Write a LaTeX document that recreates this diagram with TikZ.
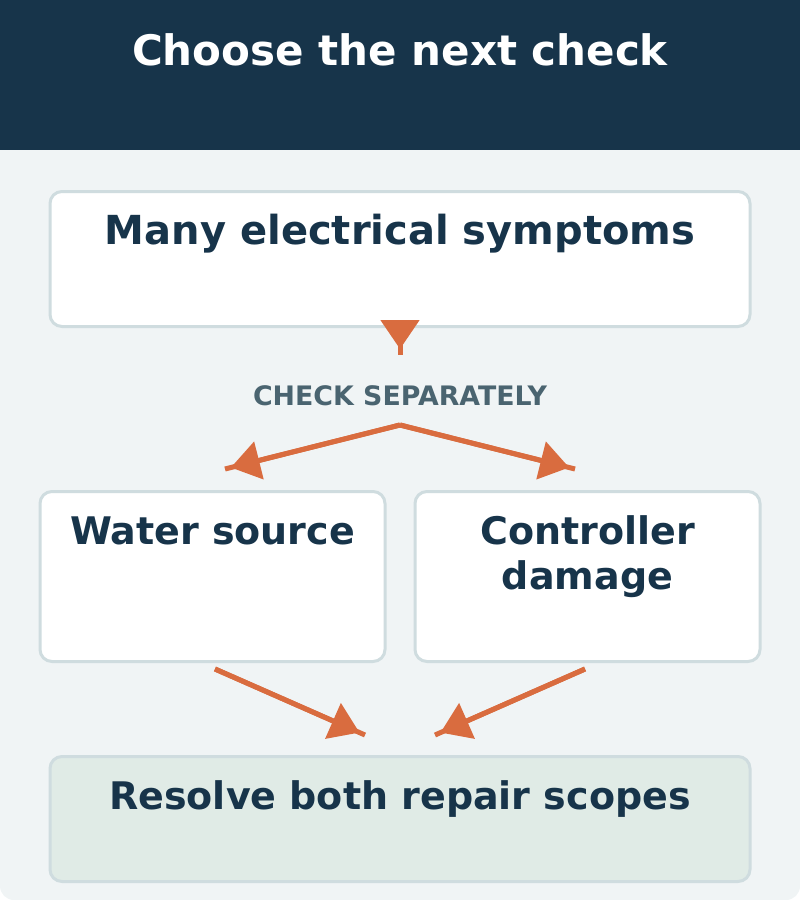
\documentclass[tikz,border=0pt]{standalone}
\usepackage{fontspec}
\setmainfont{DejaVu Sans}
\usetikzlibrary{arrows.meta}
\definecolor{navy}{HTML}{17344A}
\definecolor{accent}{HTML}{D96C3F}
\definecolor{cardbg}{HTML}{F0F4F5}
\definecolor{edge}{HTML}{CFDCDF}
\definecolor{donefill}{HTML}{E0EBE6}
\definecolor{muted}{HTML}{4A6470}
\begin{document}
\begin{tikzpicture}[x=1pt, y=-1pt, font=\bfseries,
  box/.style={draw=edge, line width=3pt, fill=white, rounded corners=12pt, anchor=north, align=center, text=navy, inner sep=0pt, font=\bfseries\fontsize{38}{45}\selectfont},
  flow/.style={draw=accent, line width=5pt, postaction={draw=accent, -{Triangle[length=29pt, width=38pt]}, shorten >=6pt}}]
\useasboundingbox (0,0) rectangle (800,900);
\fill[cardbg, rounded corners=14pt] (0,0) rectangle (800,900);
\fill[navy] (0,0) rectangle (800,150);
\node[anchor=base, text=white, font=\bfseries\fontsize{42}{48}\selectfont] (title) at (400,65) {Choose the next check};
\node[box, minimum width=700pt, text height=53pt, text depth=82pt, font=\bfseries\fontsize{40}{46}\selectfont] (many) at (400,190) {Many electrical symptoms};
\node[anchor=base, text=muted, font=\bfseries\fontsize{26.8}{30}\selectfont] (sep) at (400,405) {CHECK SEPARATELY};
\node[box, minimum width=345pt, text height=53pt, text depth=117pt] (water) at (212.5,490) {Water source};
\node[box, minimum width=345pt, text height=98pt, text depth=72pt] (ctrl) at (587.5,490) {Controller\\damage};
\node[box, fill=donefill, minimum width=700pt, text height=53pt, text depth=72pt] (resolve) at (400,755) {Resolve both repair scopes};
\coordinate (sepin) at (400,355);
\coordinate (fork) at (400,425);
\coordinate (waterin) at (225,469);
\coordinate (ctrlin) at (575,469);
\coordinate (waterout) at (215,669);
\coordinate (ctrlout) at (585,669);
\coordinate (resolvel) at (365,735);
\coordinate (resolver) at (435,735);
\draw[flow] (many.south) -- (sepin);
\draw[flow] (fork) -- (waterin);
\draw[flow] (fork) -- (ctrlin);
\draw[flow] (waterout) -- (resolvel);
\draw[flow] (ctrlout) -- (resolver);
\end{tikzpicture}
\end{document}
